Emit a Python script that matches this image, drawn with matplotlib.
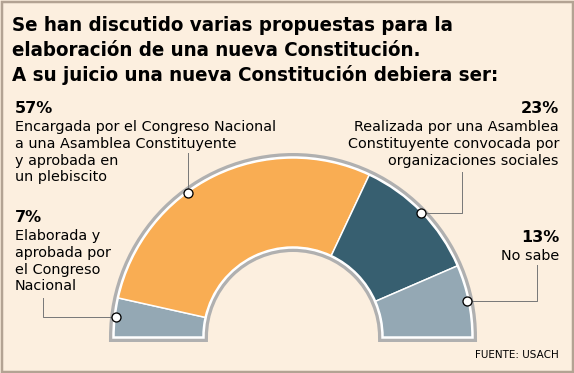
import numpy as np
import matplotlib.pyplot as plt
from matplotlib.patches import Wedge, Rectangle

# datos de la encuesta (orden de izquierda a derecha en el semicirculo)
pcts = [7, 57, 23, 13]
pct_labels = ["7%", "57%", "23%", "13%"]
descs = [
    ["Elaborada y", "aprobada por", "el Congreso", "Nacional"],
    ["Encargada por el Congreso Nacional", "a una Asamblea Constituyente",
     "y aprobada en", "un plebiscito"],
    ["Realizada por una Asamblea", "Constituyente convocada por",
     "organizaciones sociales"],
    ["No sabe"],
]
colors = ["#94a8b4", "#f9ad53", "#375f70", "#94a8b4"]
title_lines = ["Se han discutido varias propuestas para la",
               "elaboración de una nueva Constitución.",
               "A su juicio una nueva Constitución debiera ser:"]
source = "FUENTE: USACH"

W, H = 574, 373
bg = "#fcefdf"

fig = plt.figure(figsize=(W / 100, H / 100), dpi=100)
fig.patch.set_facecolor(bg)
ax = fig.add_axes([0, 0, 1, 1])
ax.set_xlim(0, W)
ax.set_ylim(H, 0)
ax.set_aspect("equal")
ax.axis("off")

px = 72 / 100  # puntos por pixel

# marco
ax.add_patch(Rectangle((1.5, 1.5), W - 3, H - 3, fill=False,
                       edgecolor="#b3a393", lw=2.5 * px))

cx, cy = 293, 337
r_out, r_in = 179, 90


def pt(ang, r):
    a = np.radians(ang)
    return cx + r * np.cos(a), cy - r * np.sin(a)


# borde gris y blanco del semicirculo (eje y invertido -> angulos negativos)
ax.add_patch(Wedge((cx, cy), r_out, 180, 360, width=r_out - r_in,
                   facecolor="#b0b0b0", edgecolor="#b0b0b0", lw=10 * px,
                   joinstyle="miter"))
ax.add_patch(Wedge((cx, cy), r_out, 180, 360, width=r_out - r_in,
                   facecolor="white", edgecolor="white", lw=3.5 * px,
                   joinstyle="miter"))

start = 180.0
mids = []
for p, c in zip(pcts, colors):
    span = p / sum(pcts) * 180
    end = start - span
    ax.add_patch(Wedge((cx, cy), r_out, 360 - start, 360 - end,
                       width=r_out - r_in, facecolor=c, edgecolor="white",
                       lw=1.5 * px))
    mids.append((start + end) / 2)
    start = end

# angulo del marcador (el de 57% va corrido hacia la izquierda)
mark_ang = [mids[0], mids[1] + 10, mids[2], mids[3]]
lc = "#7a7a7a"
m = [pt(a, r_out - 1) for a in mark_ang]

# lineas guia
ax.plot([m[0][0], 43, 43], [m[0][1], m[0][1], 298], color=lc, lw=1 * px, zorder=3)
ax.plot([m[1][0], m[1][0]], [m[1][1], 153], color=lc, lw=1 * px, zorder=3)
ax.plot([m[2][0], 462, 462], [m[2][1], m[2][1], 172], color=lc, lw=1 * px, zorder=3)
ax.plot([m[3][0], 537, 537], [m[3][1], m[3][1], 265], color=lc, lw=1 * px, zorder=3)
for x, y in m:
    ax.plot(x, y, "o", ms=9 * px, mfc="white", mec="black", mew=1.3 * px, zorder=4)

# titulo: se ajusta el tamaño al ancho total de las tres lineas (~1344 px)
title_txt = []
for i, t in enumerate(title_lines):
    title_txt.append(ax.text(12, 31 + i * 25, t, fontsize=16, fontweight="bold",
                             family="DejaVu Sans", fontstretch="condensed",
                             va="baseline", ha="left", color="black"))
rend = fig.canvas.get_renderer()
w0 = sum(tt.get_window_extent(rend).width for tt in title_txt)
for tt in title_txt:
    tt.set_fontsize(16 * 1344 / w0)

# etiquetas
blocks = [(15, 222, "left"), (15, 113, "left"), (559, 113, "right"), (559, 242, "right")]
step = 16.8
for (x, y0, ha), pl, lines in zip(blocks, pct_labels, descs):
    ax.text(x, y0, pl, fontsize=11.5, fontweight="bold", ha=ha, va="baseline",
            family="DejaVu Sans", color="black")
    for j, ln in enumerate(lines):
        ax.text(x, y0 + 18 + j * step, ln, fontsize=10.4, ha=ha, va="baseline",
                family="DejaVu Sans", color="black")

ax.text(559, 358, source, fontsize=7.5, ha="right", va="baseline",
        family="DejaVu Sans", color="black")

fig.savefig("out.png", dpi=100, facecolor=bg)
